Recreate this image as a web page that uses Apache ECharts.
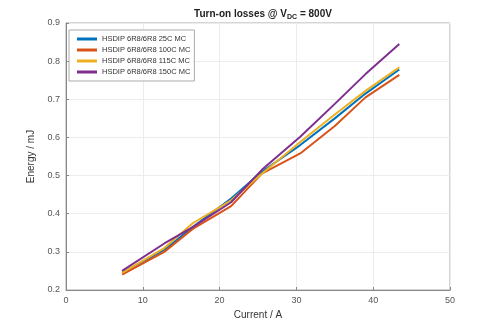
<!DOCTYPE html>
<html><head><meta charset="utf-8">
<script src="https://cdn.jsdelivr.net/npm/echarts@6/dist/echarts.min.js"></script>
<style>html,body{margin:0;padding:0;background:#fff}#c{width:500px;height:329px}</style>
</head><body><div id="c"></div>
<script>
const currents = [7.3, 12.8, 16.5, 21.5, 25.5, 30.5, 35, 39, 43.4];
const e25 = [0.245, 0.305, 0.365, 0.44, 0.51, 0.58, 0.65, 0.715, 0.778];
const e100 = [0.240, 0.300, 0.36, 0.42, 0.505, 0.558, 0.63, 0.705, 0.764];
const e115 = [0.245, 0.31, 0.375, 0.435, 0.505, 0.588, 0.66, 0.722, 0.784];
const e150 = [0.250, 0.322, 0.365, 0.43, 0.515, 0.602, 0.688, 0.766, 0.845];
const names = ['HSDIP 6R8/6R8 25C MC','HSDIP 6R8/6R8 100C MC','HSDIP 6R8/6R8 115C MC','HSDIP 6R8/6R8 150C MC'];
const colors = ['#0072BD','#D95319','#EDB120','#7E2F8E'];
const sets = [e25, e100, e115, e150];
const pair = (ys) => currents.map((x, i) => [x, ys[i]]);
const chart = echarts.init(document.getElementById('c'));
const axCol = '#555';
chart.setOption({
  animation: false,
  title: {
    text: '{b|Turn-on losses @ V}{s|DC}{b| = 800V}',
    left: 258, top: 3, textAlign: 'center',
    textStyle: { rich: {
      b: { fontFamily: 'Liberation Sans, Arial', fontWeight: 'bold', fontSize: 10, color: '#222' },
      s: { fontFamily: 'Liberation Sans, Arial', fontWeight: 'bold', fontSize: 7, color: '#222', verticalAlign: 'bottom', padding: [6,0,0,0] }
    } }
  },
  grid: { left: 66, top: 23, width: 384, height: 267, show: true, borderColor: '#aaa', borderWidth: 1 },
  legend: {
    orient: 'vertical', left: 69, top: 30, itemWidth: 20, itemHeight: 3, itemGap: 3,
    icon: 'rect',
    padding: [5, 4, 5, 8], borderColor: '#aaa', borderWidth: 1, backgroundColor: '#fff',
    textStyle: { fontSize: 7.5, color: '#333', fontFamily: 'Liberation Sans, Arial' },
    data: names
  },
  xAxis: {
    type: 'value', min: 0, max: 50, interval: 10,
    name: 'Current / A', nameLocation: 'middle', nameGap: 18,
    nameTextStyle: { fontSize: 10, color: '#333', fontFamily: 'Liberation Sans, Arial' },
    axisLine: { lineStyle: { color: '#888' } },
    axisTick: { inside: true, length: 3, lineStyle: { color: '#888' } },
    axisLabel: { fontSize: 9, color: axCol, margin: 6, fontFamily: 'Liberation Sans, Arial' },
    splitLine: { lineStyle: { color: '#ececec' } }
  },
  yAxis: {
    type: 'value', min: 0.2, max: 0.9, interval: 0.1,
    name: 'Energy / mJ', nameLocation: 'middle', nameGap: 23,
    nameTextStyle: { fontSize: 10, color: '#333', fontFamily: 'Liberation Sans, Arial' },
    axisLine: { show: true, lineStyle: { color: '#888' } },
    axisTick: { show: true, inside: true, length: 3, lineStyle: { color: '#888' } },
    axisLabel: { fontSize: 9, color: axCol, margin: 6, fontFamily: 'Liberation Sans, Arial', formatter: v => v.toFixed(1) },
    splitLine: { lineStyle: { color: '#ececec' } }
  },
  series: sets.map((s, i) => ({
    name: names[i], type: 'line', data: pair(s), symbol: 'none',
    lineStyle: { width: 2, color: colors[i] }, itemStyle: { color: colors[i] }
  }))
});
</script></body></html>
